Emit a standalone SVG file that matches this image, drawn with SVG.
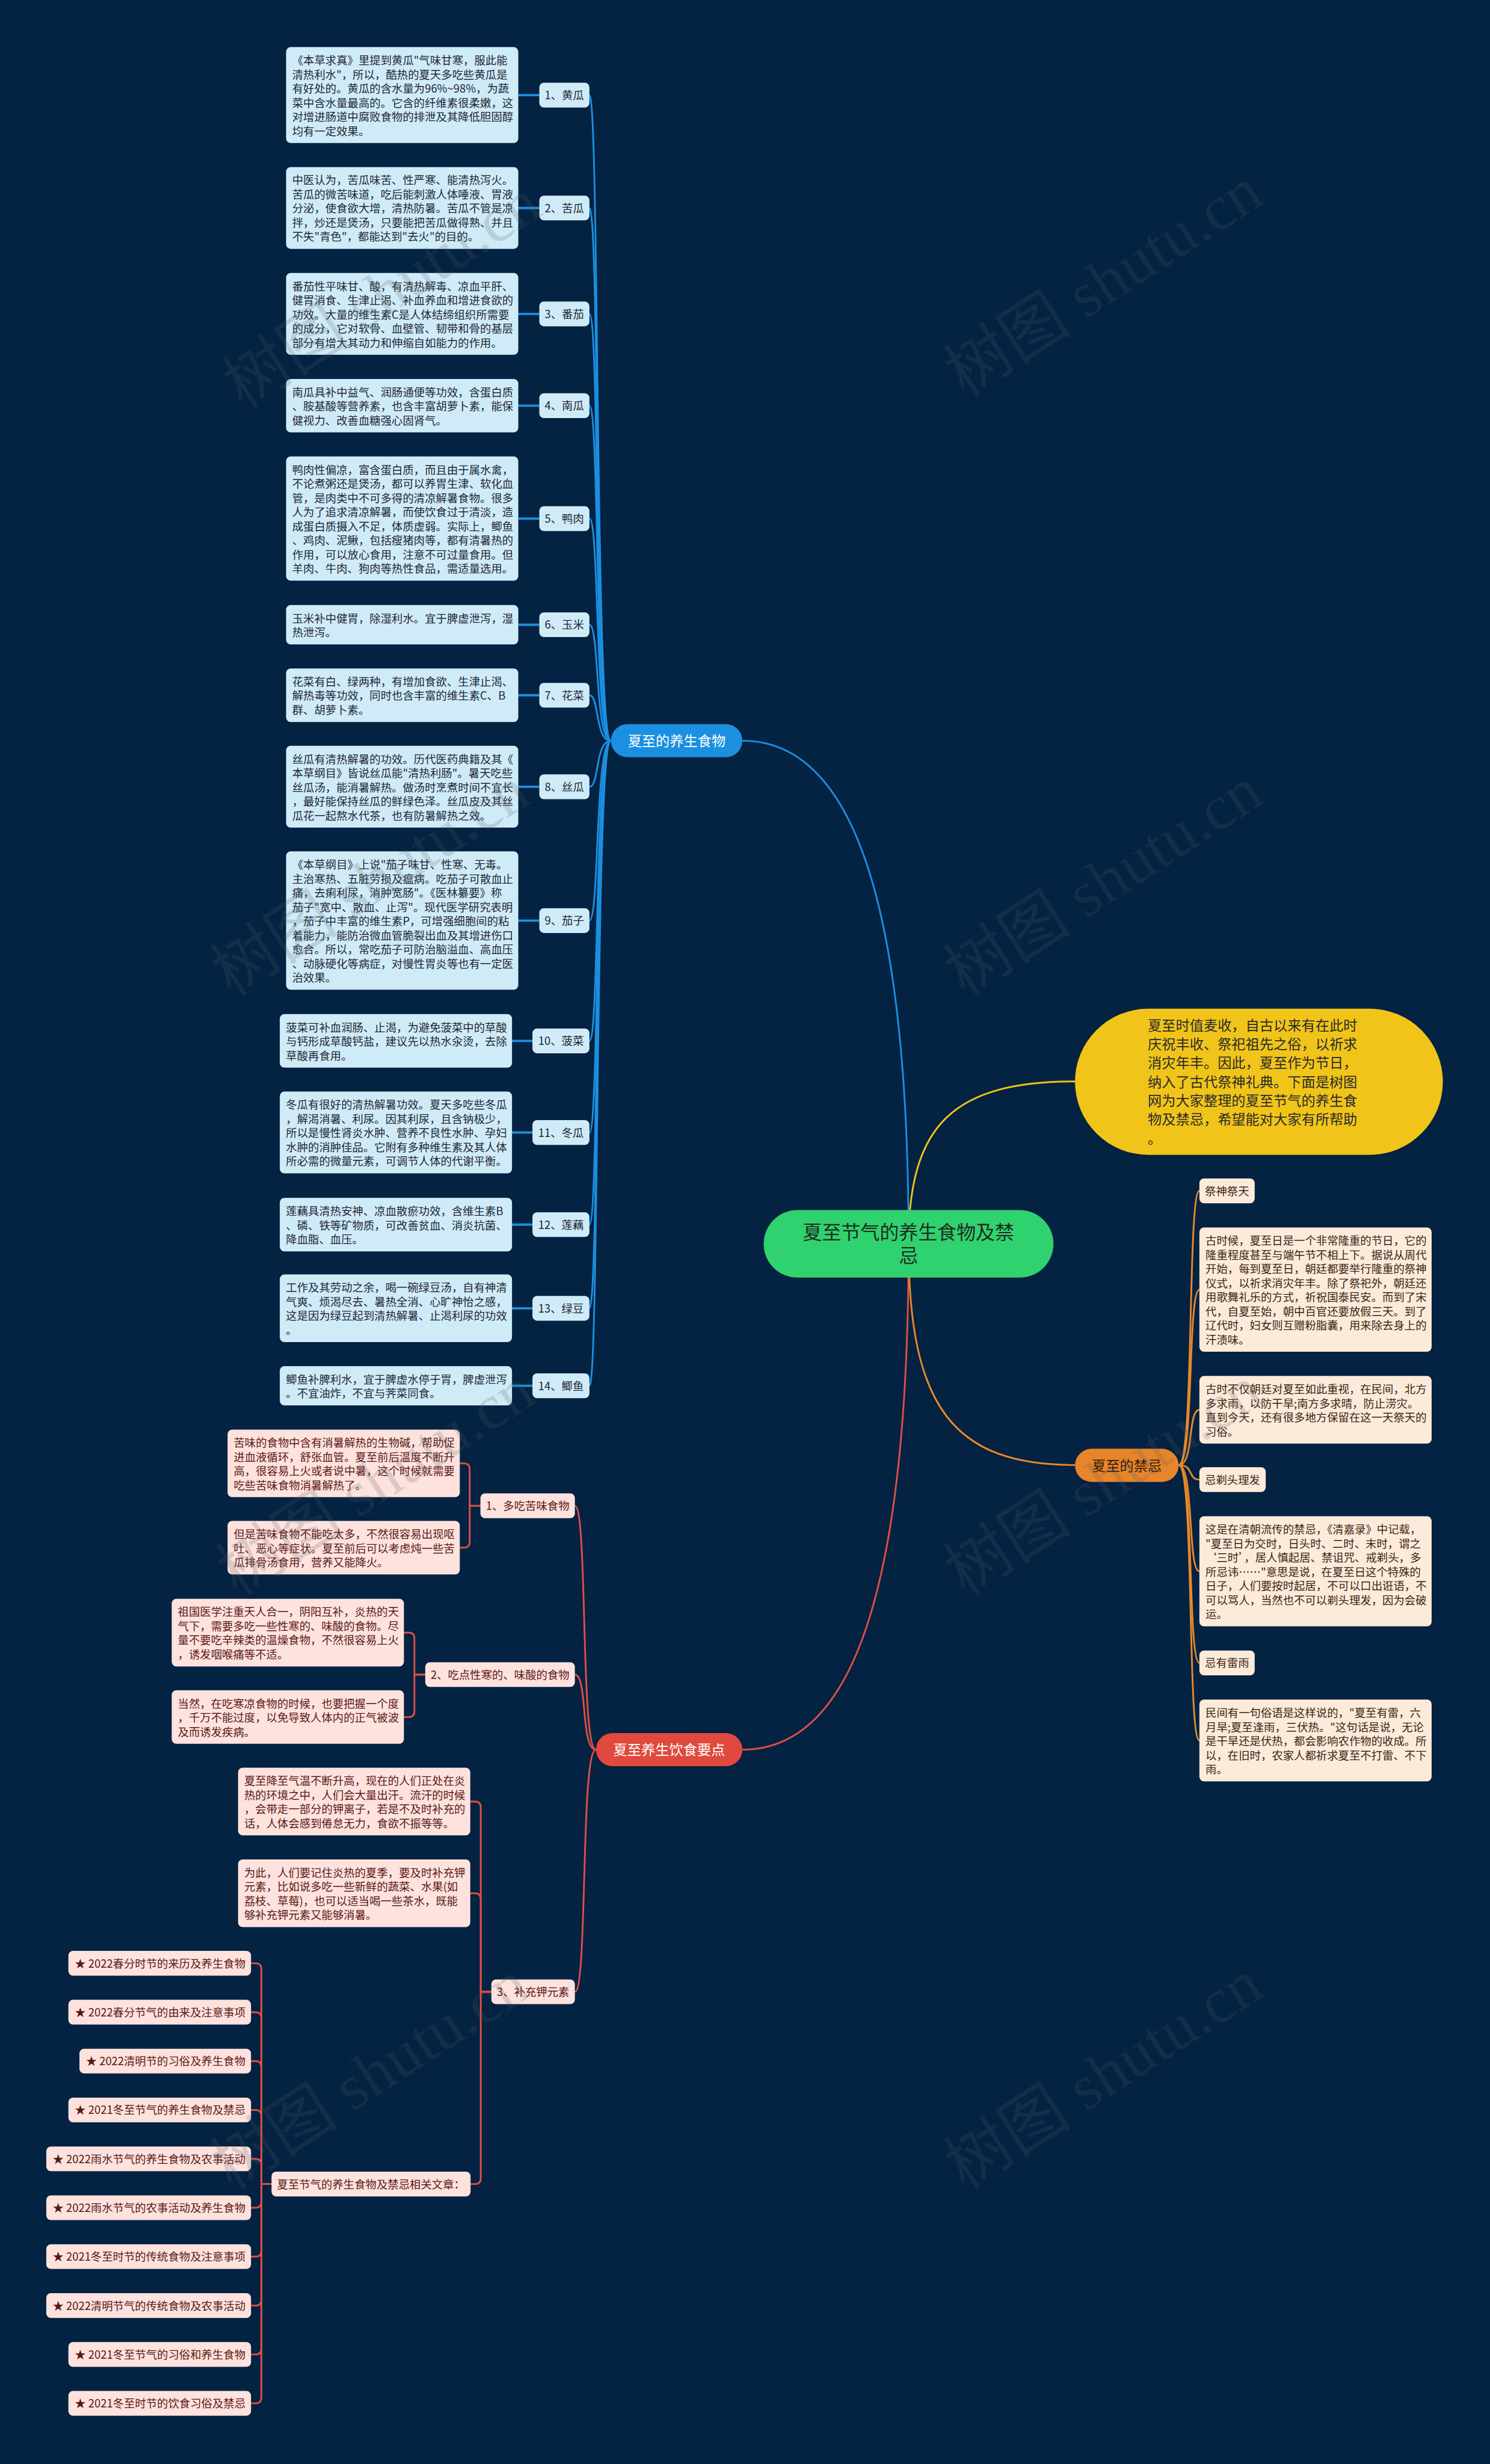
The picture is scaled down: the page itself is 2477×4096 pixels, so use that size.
<svg xmlns="http://www.w3.org/2000/svg" width="2477" height="4096" viewBox="0 0 2477 4096">
<defs>
<style>
text{font-family:"Noto Sans CJK SC","Noto Sans",sans-serif;font-size:19px}
.bb{fill:#d0ebf8}
.bt{fill:#1d2733}
.ob{fill:#fcebda}
.ot{fill:#3b2414}
.rb{fill:#fde2de}
.rt{fill:#5a1812}
.lm{text-anchor:middle}
.le{text-anchor:end}
.cb{stroke:#1b8fe0;fill:none;stroke-width:3}
.cbt{stroke:#1b8fe0;fill:none;stroke-width:4}
.co{stroke:#e8892b;fill:none;stroke-width:3}
.cr{stroke:#dc5045;fill:none;stroke-width:3}
.cy{stroke:#f0c419;fill:none;stroke-width:3}
.wm{font-family:"Liberation Serif","Noto Sans CJK SC",serif;font-size:110px;fill:#56606a;text-anchor:middle}
</style>
</defs>
<rect x="0" y="0" width="2477" height="4096" fill="#042241"/>
<g transform="scale(0.96758)">

<g id="connectors">
<path class="cb" d="M1561 2137 C1561 1480 1440 1272.6 1275.5 1272.6"/>
<path class="cr" d="M1561 2137 C1561 2800 1440 3006 1275.5 3006"/>
<path class="cy" d="M1561 2137 C1561 1930 1640 1858 1847 1858"/>
<path class="co" d="M1561 2137 C1561 2420 1640 2517 1847 2517"/>

<path class="cb" d="M1012.7 163.4 C1030 163.4 1022 1272.6 1049.7 1272.6"/>
<path class="cb" d="M1012.7 357.3 C1030 357.3 1022 1272.6 1049.7 1272.6"/>
<path class="cb" d="M1012.7 539.3 C1030 539.3 1022 1272.6 1049.7 1272.6"/>
<path class="cb" d="M1012.7 697 C1030 697 1022 1272.6 1049.7 1272.6"/>
<path class="cb" d="M1012.7 891 C1030 891 1022 1272.6 1049.7 1272.6"/>
<path class="cb" d="M1012.7 1073.3 C1030 1073.3 1022 1272.6 1049.7 1272.6"/>
<path class="cb" d="M1012.7 1194.5 C1030 1194.5 1022 1272.6 1049.7 1272.6"/>
<path class="cb" d="M1012.7 1351.7 C1030 1351.7 1022 1272.6 1049.7 1272.6"/>
<path class="cb" d="M1012.7 1581.6 C1030 1581.6 1022 1272.6 1049.7 1272.6"/>
<path class="cb" d="M1012.7 1788.3 C1030 1788.3 1022 1272.6 1049.7 1272.6"/>
<path class="cb" d="M1012.7 1945.7 C1030 1945.7 1022 1272.6 1049.7 1272.6"/>
<path class="cb" d="M1012.7 2104 C1030 2104 1022 1272.6 1049.7 1272.6"/>
<path class="cb" d="M1012.7 2247.7 C1030 2247.7 1022 1272.6 1049.7 1272.6"/>
<path class="cb" d="M1012.7 2380.8 C1030 2380.8 1022 1272.6 1049.7 1272.6"/>

<path class="cbt" d="M890.5 163.4 H926.6"/>
<path class="cbt" d="M890.5 357.3 H926.6"/>
<path class="cbt" d="M890.5 539.3 H926.6"/>
<path class="cbt" d="M890.5 697 H926.6"/>
<path class="cbt" d="M890.5 891 H926.6"/>
<path class="cbt" d="M890.5 1073.3 H926.6"/>
<path class="cbt" d="M890.5 1194.5 H926.6"/>
<path class="cbt" d="M890.5 1351.7 H926.6"/>
<path class="cbt" d="M890.5 1581.6 H926.6"/>
<path class="cbt" d="M879.7 1788.3 H914.8"/>
<path class="cbt" d="M879.7 1945.7 H914.8"/>
<path class="cbt" d="M879.7 2104 H914.8"/>
<path class="cbt" d="M879.7 2247.7 H914.8"/>
<path class="cbt" d="M879.7 2380.8 H914.8"/>

<path class="co" d="M2025 2517 C2052 2517 2040 2046 2060.7 2046"/>
<path class="co" d="M2025 2517 C2052 2517 2040 2215.5 2060.7 2215.5"/>
<path class="co" d="M2025 2517 C2052 2517 2040 2422.1 2060.7 2422.1"/>
<path class="co" d="M2025 2517 C2052 2517 2040 2542 2060.7 2542"/>
<path class="co" d="M2025 2517 C2052 2517 2040 2699.5 2060.7 2699.5"/>
<path class="co" d="M2025 2517 C2052 2517 2040 2857 2060.7 2857"/>
<path class="co" d="M2025 2517 C2052 2517 2040 2990.2 2060.7 2990.2"/>

<path class="cr" d="M1024 3006 C997 3006 1010 2587 987.7 2587"/>
<path class="cr" d="M1024 3006 C997 3006 1010 2877 987.7 2877"/>
<path class="cr" d="M1024 3006 C997 3006 1010 3422 987.7 3422"/>

<path class="cr" d="M825.4 2587 H807 V2524.1 Q807 2514.1 797 2514.1 H790"/>
<path class="cr" d="M825.4 2587 H807 V2649 Q807 2659 797 2659 H790"/>
<path class="cr" d="M730.6 2877 H712 V2814.9 Q712 2804.9 702 2804.9 H694"/>
<path class="cr" d="M730.6 2877 H712 V2940 Q712 2950 702 2950 H694"/>
<path class="cr" d="M844.2 3422 H826 V3105.1 Q826 3095.1 816 3095.1 H808"/>
<path class="cr" d="M844.2 3422 H826 V3262.7 Q826 3252.7 816 3252.7 H808"/>
<path class="cr" d="M844.2 3422 H826 V3742.25 Q826 3752.25 816 3752.25 H808.5"/>

<path class="cr" d="M466.5 3752.25 H449 V3383 Q449 3373 439 3373 H431.3"/>
<path class="cr" d="M466.5 3752.25 H449 V3467 Q449 3457 439 3457 H431.3"/>
<path class="cr" d="M466.5 3752.25 H449 V3551 Q449 3541 439 3541 H431.3"/>
<path class="cr" d="M466.5 3752.25 H449 V3635 Q449 3625 439 3625 H431.3"/>
<path class="cr" d="M466.5 3752.25 H449 V3719 Q449 3709 439 3709 H431.3"/>
<path class="cr" d="M466.5 3752.25 H449 V3783 Q449 3793 439 3793 H431.3"/>
<path class="cr" d="M466.5 3752.25 H449 V3867 Q449 3877 439 3877 H431.3"/>
<path class="cr" d="M466.5 3752.25 H449 V3951 Q449 3961 439 3961 H431.3"/>
<path class="cr" d="M466.5 3752.25 H449 V4035 Q449 4045 439 4045 H431.3"/>
<path class="cr" d="M466.5 3752.25 H449 V4119 Q449 4129 439 4129 H431.3"/>
</g>

<g id="root">
<rect x="1312" y="2079" width="498" height="116" rx="58" fill="#2fd26e"/>
<text x="1561" y="2129.5" class="lm" style="font-size:33px;fill:#1f2a22">夏至节气的养生食物及禁</text>
<text x="1561" y="2169.5" class="lm" style="font-size:33px;fill:#1f2a22">忌</text>
</g>

<g id="intro">
<rect x="1847" y="1733" width="632" height="251" rx="125.5" fill="#f0c419"/>
<text x="1972" y="1769.9" style="font-size:24px;fill:#2a2a2a"><tspan x="1972">夏至时值麦收，自古以来有在此时</tspan><tspan x="1972" dy="32.4">庆祝丰收、祭祀祖先之俗，以祈求</tspan><tspan x="1972" dy="32.4">消灾年丰。因此，夏至作为节日，</tspan><tspan x="1972" dy="32.4">纳入了古代祭神礼典。下面是树图</tspan><tspan x="1972" dy="32.4">网为大家整理的夏至节气的养生食</tspan><tspan x="1972" dy="32.4">物及禁忌，希望能对大家有所帮助</tspan><tspan x="1972" dy="32.4">。</tspan></text>
</g>

<g id="food">
<rect x="1049.7" y="1244" width="225.8" height="57" rx="28.5" fill="#1b8fe0"/>
<text x="1162.6" y="1281.6" class="lm" style="font-size:24px;fill:#ffffff">夏至的养生食物</text>
</g>

<g id="f1"><rect class="bb" x="926.6" y="142.15" width="86.1" height="42.5" rx="8"/><text class="bt lm" x="969.65" y="170.6">1、黄瓜</text></g>
<g id="f2"><rect class="bb" x="926.6" y="336.05" width="86.1" height="42.5" rx="8"/><text class="bt lm" x="969.65" y="364.5">2、苦瓜</text></g>
<g id="f3"><rect class="bb" x="926.6" y="518.05" width="86.1" height="42.5" rx="8"/><text class="bt lm" x="969.65" y="546.5">3、番茄</text></g>
<g id="f4"><rect class="bb" x="926.6" y="675.75" width="86.1" height="42.5" rx="8"/><text class="bt lm" x="969.65" y="704.2">4、南瓜</text></g>
<g id="f5"><rect class="bb" x="926.6" y="869.75" width="86.1" height="42.5" rx="8"/><text class="bt lm" x="969.65" y="898.2">5、鸭肉</text></g>
<g id="f6"><rect class="bb" x="926.6" y="1052.05" width="86.1" height="42.5" rx="8"/><text class="bt lm" x="969.65" y="1080.5">6、玉米</text></g>
<g id="f7"><rect class="bb" x="926.6" y="1173.25" width="86.1" height="42.5" rx="8"/><text class="bt lm" x="969.65" y="1201.7">7、花菜</text></g>
<g id="f8"><rect class="bb" x="926.6" y="1330.45" width="86.1" height="42.5" rx="8"/><text class="bt lm" x="969.65" y="1358.9">8、丝瓜</text></g>
<g id="f9"><rect class="bb" x="926.6" y="1560.35" width="86.1" height="42.5" rx="8"/><text class="bt lm" x="969.65" y="1588.8">9、茄子</text></g>
<g id="f10"><rect class="bb" x="914.8" y="1767.05" width="97.9" height="42.5" rx="8"/><text class="bt lm" x="963.75" y="1795.5">10、菠菜</text></g>
<g id="f11"><rect class="bb" x="914.8" y="1924.45" width="97.9" height="42.5" rx="8"/><text class="bt lm" x="963.75" y="1952.9">11、冬瓜</text></g>
<g id="f12"><rect class="bb" x="914.8" y="2082.75" width="97.9" height="42.5" rx="8"/><text class="bt lm" x="963.75" y="2111.2">12、莲藕</text></g>
<g id="f13"><rect class="bb" x="914.8" y="2226.45" width="97.9" height="42.5" rx="8"/><text class="bt lm" x="963.75" y="2254.9">13、绿豆</text></g>
<g id="f14"><rect class="bb" x="914.8" y="2359.55" width="97.9" height="42.5" rx="8"/><text class="bt lm" x="963.75" y="2388">14、鲫鱼</text></g>

<g id="d1"><rect class="bb" x="491.5" y="81" width="399" height="164.8" rx="8"/><text class="bt" x="502" y="110.7"><tspan x="502">《本草求真》里提到黄瓜"气味甘寒，服此能</tspan><tspan x="502" dy="24.3">清热利水"，所以，酷热的夏天多吃些黄瓜是</tspan><tspan x="502" dy="24.3">有好处的。黄瓜的含水量为96%~98%，为蔬</tspan><tspan x="502" dy="24.3">菜中含水量最高的。它含的纤维素很柔嫩，这</tspan><tspan x="502" dy="24.3">对增进肠道中腐败食物的排泄及其降低胆固醇</tspan><tspan x="502" dy="24.3">均有一定效果。</tspan></text></g>
<g id="d2"><rect class="bb" x="491.5" y="287" width="399" height="140.5" rx="8"/><text class="bt" x="502" y="316.7"><tspan x="502">中医认为，苦瓜味苦、性严寒、能清热泻火。</tspan><tspan x="502" dy="24.3">苦瓜的微苦味道，吃后能刺激人体唾液、胃液</tspan><tspan x="502" dy="24.3">分泌，使食欲大增，清热防暑。苦瓜不管是凉</tspan><tspan x="502" dy="24.3">拌，炒还是煲汤，只要能把苦瓜做得熟、并且</tspan><tspan x="502" dy="24.3">不失"青色"，都能达到"去火"的目的。</tspan></text></g>
<g id="d3"><rect class="bb" x="491.5" y="469" width="399" height="140.5" rx="8"/><text class="bt" x="502" y="498.7"><tspan x="502">番茄性平味甘、酸，有清热解毒、凉血平肝、</tspan><tspan x="502" dy="24.3">健胃消食、生津止渴、补血养血和增进食欲的</tspan><tspan x="502" dy="24.3">功效。大量的维生素C是人体结缔组织所需要</tspan><tspan x="502" dy="24.3">的成分，它对软骨、血壁管、韧带和骨的基层</tspan><tspan x="502" dy="24.3">部分有增大其动力和伸缩自如能力的作用。</tspan></text></g>
<g id="d4"><rect class="bb" x="491.5" y="651" width="399" height="91.9" rx="8"/><text class="bt" x="502" y="680.7"><tspan x="502">南瓜具补中益气、润肠通便等功效，含蛋白质</tspan><tspan x="502" dy="24.3">、胺基酸等营养素，也含丰富胡萝卜素，能保</tspan><tspan x="502" dy="24.3">健视力、改善血糖强心固肾气。</tspan></text></g>
<g id="d5"><rect class="bb" x="491.5" y="784.3" width="399" height="213.4" rx="8"/><text class="bt" x="502" y="814"><tspan x="502">鸭肉性偏凉，富含蛋白质，而且由于属水禽，</tspan><tspan x="502" dy="24.3">不论煮粥还是煲汤，都可以养胃生津、软化血</tspan><tspan x="502" dy="24.3">管，是肉类中不可多得的清凉解暑食物。很多</tspan><tspan x="502" dy="24.3">人为了追求清凉解暑，而使饮食过于清淡，造</tspan><tspan x="502" dy="24.3">成蛋白质摄入不足，体质虚弱。实际上，鲫鱼</tspan><tspan x="502" dy="24.3">、鸡肉、泥鳅，包括瘦猪肉等，都有清暑热的</tspan><tspan x="502" dy="24.3">作用，可以放心食用，注意不可过量食用。但</tspan><tspan x="502" dy="24.3">羊肉、牛肉、狗肉等热性食品，需适量选用。</tspan></text></g>
<g id="d6"><rect class="bb" x="491.5" y="1039.5" width="399" height="67.6" rx="8"/><text class="bt" x="502" y="1069.2"><tspan x="502">玉米补中健胃，除湿利水。宜于脾虚泄泻，湿</tspan><tspan x="502" dy="24.3">热泄泻。</tspan></text></g>
<g id="d7"><rect class="bb" x="491.5" y="1148.5" width="399" height="91.9" rx="8"/><text class="bt" x="502" y="1178.2"><tspan x="502">花菜有白、绿两种，有增加食欲、生津止渴、</tspan><tspan x="502" dy="24.3">解热毒等功效，同时也含丰富的维生素C、B</tspan><tspan x="502" dy="24.3">群、胡萝卜素。</tspan></text></g>
<g id="d8"><rect class="bb" x="491.5" y="1281.4" width="399" height="140.5" rx="8"/><text class="bt" x="502" y="1311.1"><tspan x="502">丝瓜有清热解暑的功效。历代医药典籍及其《</tspan><tspan x="502" dy="24.3">本草纲目》皆说丝瓜能"清热利肠"。暑天吃些</tspan><tspan x="502" dy="24.3">丝瓜汤，能消暑解热。做汤时烹煮时间不宜长</tspan><tspan x="502" dy="24.3">，最好能保持丝瓜的鲜绿色泽。丝瓜皮及其丝</tspan><tspan x="502" dy="24.3">瓜花一起熬水代茶，也有防暑解热之效。</tspan></text></g>
<g id="d9"><rect class="bb" x="491.5" y="1462.7" width="399" height="237.7" rx="8"/><text class="bt" x="502" y="1492.4"><tspan x="502">《本草纲目》上说"茄子味甘、性寒、无毒。</tspan><tspan x="502" dy="24.3">主治寒热、五脏劳损及瘟病。吃茄子可散血止</tspan><tspan x="502" dy="24.3">痛，去痢利尿，消肿宽肠"。《医林纂要》称</tspan><tspan x="502" dy="24.3">茄子"宽中、散血、止泻"。现代医学研究表明</tspan><tspan x="502" dy="24.3">，茄子中丰富的维生素P，可增强细胞间的粘</tspan><tspan x="502" dy="24.3">着能力，能防治微血管脆裂出血及其增进伤口</tspan><tspan x="502" dy="24.3">愈合。所以，常吃茄子可防治脑溢血、高血压</tspan><tspan x="502" dy="24.3">、动脉硬化等病症，对慢性胃炎等也有一定医</tspan><tspan x="502" dy="24.3">治效果。</tspan></text></g>
<g id="d10"><rect class="bb" x="480.7" y="1742.3" width="399" height="91.9" rx="8"/><text class="bt" x="491.2" y="1772"><tspan x="491.2">菠菜可补血润肠、止渴，为避免菠菜中的草酸</tspan><tspan x="491.2" dy="24.3">与钙形成草酸钙盐，建议先以热水汆烫，去除</tspan><tspan x="491.2" dy="24.3">草酸再食用。</tspan></text></g>
<g id="d11"><rect class="bb" x="480.7" y="1875.4" width="399" height="140.5" rx="8"/><text class="bt" x="491.2" y="1905.1"><tspan x="491.2">冬瓜有很好的清热解暑功效。夏天多吃些冬瓜</tspan><tspan x="491.2" dy="24.3">，解渴消暑、利尿。因其利尿，且含钠极少，</tspan><tspan x="491.2" dy="24.3">所以是慢性肾炎水肿、营养不良性水肿、孕妇</tspan><tspan x="491.2" dy="24.3">水肿的消肿佳品。它附有多种维生素及其人体</tspan><tspan x="491.2" dy="24.3">所必需的微量元素，可调节人体的代谢平衡。</tspan></text></g>
<g id="d12"><rect class="bb" x="480.7" y="2058" width="399" height="91.9" rx="8"/><text class="bt" x="491.2" y="2087.7"><tspan x="491.2">莲藕具清热安神、凉血散瘀功效，含维生素B</tspan><tspan x="491.2" dy="24.3">、磷、铁等矿物质，可改善贫血、消炎抗菌、</tspan><tspan x="491.2" dy="24.3">降血脂、血压。</tspan></text></g>
<g id="d13"><rect class="bb" x="480.7" y="2189.6" width="399" height="116.2" rx="8"/><text class="bt" x="491.2" y="2219.3"><tspan x="491.2">工作及其劳动之余，喝一碗绿豆汤，自有神清</tspan><tspan x="491.2" dy="24.3">气爽、烦渴尽去、暑热全消、心旷神怡之感，</tspan><tspan x="491.2" dy="24.3">这是因为绿豆起到清热解暑、止渴利尿的功效</tspan><tspan x="491.2" dy="24.3">。</tspan></text></g>
<g id="d14"><rect class="bb" x="480.7" y="2347" width="399" height="67.6" rx="8"/><text class="bt" x="491.2" y="2376.7"><tspan x="491.2">鲫鱼补脾利水，宜于脾虚水停于胃，脾虚泄泻</tspan><tspan x="491.2" dy="24.3">。不宜油炸，不宜与荠菜同食。</tspan></text></g>

<g id="taboo">
<rect x="1847" y="2489" width="178" height="57" rx="28.5" fill="#e8852a"/>
<text x="1936" y="2526.6" class="lm" style="font-size:24px;fill:#2e1a08">夏至的禁忌</text>
</g>
<g id="t1"><rect class="ob" x="2060.7" y="2024.75" width="95" height="42.5" rx="8"/><text class="ot" x="2070.2" y="2053.2">祭神祭天</text></g>
<g id="t2"><rect class="ob" x="2060.7" y="2108.8" width="399" height="213.4" rx="8"/><text class="ot" x="2071.2" y="2138.5"><tspan x="2071.2">古时候，夏至日是一个非常隆重的节日，它的</tspan><tspan x="2071.2" dy="24.3">隆重程度甚至与端午节不相上下。据说从周代</tspan><tspan x="2071.2" dy="24.3">开始，每到夏至日，朝廷都要举行隆重的祭神</tspan><tspan x="2071.2" dy="24.3">仪式，以祈求消灾年丰。除了祭祀外，朝廷还</tspan><tspan x="2071.2" dy="24.3">用歌舞礼乐的方式，祈祝国泰民安。而到了宋</tspan><tspan x="2071.2" dy="24.3">代，自夏至始，朝中百官还要放假三天。到了</tspan><tspan x="2071.2" dy="24.3">辽代时，妇女则互赠粉脂囊，用来除去身上的</tspan><tspan x="2071.2" dy="24.3">汗渍味。</tspan></text></g>
<g id="t3"><rect class="ob" x="2060.7" y="2364" width="399" height="116.2" rx="8"/><text class="ot" x="2071.2" y="2393.7"><tspan x="2071.2">古时不仅朝廷对夏至如此重视，在民间，北方</tspan><tspan x="2071.2" dy="24.3">多求雨，以防干旱;南方多求晴，防止涝灾。</tspan><tspan x="2071.2" dy="24.3">直到今天，还有很多地方保留在这一天祭天的</tspan><tspan x="2071.2" dy="24.3">习俗。</tspan></text></g>
<g id="t4"><rect class="ob" x="2060.7" y="2520.75" width="114" height="42.5" rx="8"/><text class="ot" x="2070.2" y="2549.2">忌剃头理发</text></g>
<g id="t5"><rect class="ob" x="2060.7" y="2605" width="399" height="189.1" rx="8"/><text class="ot" x="2071.2" y="2634.7"><tspan x="2071.2">这是在清朝流传的禁忌，《清嘉录》中记载，</tspan><tspan x="2071.2" dy="24.3">"夏至日为交时，日头时、二时、末时，谓之</tspan><tspan x="2071.2" dy="24.3">‘三时’，居人慎起居、禁诅咒、戒剃头，多</tspan><tspan x="2071.2" dy="24.3">所忌讳……"意思是说，在夏至日这个特殊的</tspan><tspan x="2071.2" dy="24.3">日子，人们要按时起居，不可以口出诳语，不</tspan><tspan x="2071.2" dy="24.3">可以骂人，当然也不可以剃头理发，因为会破</tspan><tspan x="2071.2" dy="24.3">运。</tspan></text></g>
<g id="t6"><rect class="ob" x="2060.7" y="2835.75" width="95" height="42.5" rx="8"/><text class="ot" x="2070.2" y="2864.2">忌有雷雨</text></g>
<g id="t7"><rect class="ob" x="2060.7" y="2920" width="399" height="140.5" rx="8"/><text class="ot" x="2071.2" y="2949.7"><tspan x="2071.2">民间有一句俗语是这样说的，"夏至有雷，六</tspan><tspan x="2071.2" dy="24.3">月旱;夏至逢雨，三伏热。"这句话是说，无论</tspan><tspan x="2071.2" dy="24.3">是干旱还是伏热，都会影响农作物的收成。所</tspan><tspan x="2071.2" dy="24.3">以，在旧时，农家人都祈求夏至不打雷、不下</tspan><tspan x="2071.2" dy="24.3">雨。</tspan></text></g>

<g id="diet">
<rect x="1024" y="2977.5" width="251.5" height="57" rx="28.5" fill="#e0493e"/>
<text x="1149.75" y="3015.1" class="lm" style="font-size:24px;fill:#ffffff">夏至养生饮食要点</text>
</g>
<g id="r1"><rect class="rb" x="825.4" y="2565.75" width="162.3" height="42.5" rx="8"/><text class="rt lm" x="906.55" y="2594.2">1、多吃苦味食物</text></g>
<g id="r1a"><rect class="rb" x="391" y="2456" width="399" height="116.2" rx="8"/><text class="rt" x="401.5" y="2485.7"><tspan x="401.5">苦味的食物中含有消暑解热的生物碱，帮助促</tspan><tspan x="401.5" dy="24.3">进血液循环，舒张血管。夏至前后温度不断升</tspan><tspan x="401.5" dy="24.3">高，很容易上火或者说中暑，这个时候就需要</tspan><tspan x="401.5" dy="24.3">吃些苦味食物消暑解热了。</tspan></text></g>
<g id="r1b"><rect class="rb" x="391" y="2613" width="399" height="91.9" rx="8"/><text class="rt" x="401.5" y="2642.7"><tspan x="401.5">但是苦味食物不能吃太多，不然很容易出现呕</tspan><tspan x="401.5" dy="24.3">吐、恶心等症状。夏至前后可以考虑炖一些苦</tspan><tspan x="401.5" dy="24.3">瓜排骨汤食用，营养又能降火。</tspan></text></g>
<g id="r2"><rect class="rb" x="730.6" y="2855.75" width="257.1" height="42.5" rx="8"/><text class="rt lm" x="859.15" y="2884.2">2、吃点性寒的、味酸的食物</text></g>
<g id="r2a"><rect class="rb" x="295" y="2746.8" width="399" height="116.2" rx="8"/><text class="rt" x="305.5" y="2776.5"><tspan x="305.5">祖国医学注重天人合一，阴阳互补，炎热的天</tspan><tspan x="305.5" dy="24.3">气下，需要多吃一些性寒的、味酸的食物。尽</tspan><tspan x="305.5" dy="24.3">量不要吃辛辣类的温燥食物，不然很容易上火</tspan><tspan x="305.5" dy="24.3">，诱发咽喉痛等不适。</tspan></text></g>
<g id="r2b"><rect class="rb" x="295" y="2904" width="399" height="91.9" rx="8"/><text class="rt" x="305.5" y="2933.7"><tspan x="305.5">当然，在吃寒凉食物的时候，也要把握一个度</tspan><tspan x="305.5" dy="24.3">，千万不能过度，以免导致人体内的正气被波</tspan><tspan x="305.5" dy="24.3">及而诱发疾病。</tspan></text></g>
<g id="r3"><rect class="rb" x="844.2" y="3400.75" width="143.5" height="42.5" rx="8"/><text class="rt lm" x="915.95" y="3429.2">3、补充钾元素</text></g>
<g id="r3a"><rect class="rb" x="409" y="3037" width="399" height="116.2" rx="8"/><text class="rt" x="419.5" y="3066.7"><tspan x="419.5">夏至降至气温不断升高，现在的人们正处在炎</tspan><tspan x="419.5" dy="24.3">热的环境之中，人们会大量出汗。流汗的时候</tspan><tspan x="419.5" dy="24.3">，会带走一部分的钾离子，若是不及时补充的</tspan><tspan x="419.5" dy="24.3">话，人体会感到倦怠无力，食欲不振等等。</tspan></text></g>
<g id="r3b"><rect class="rb" x="409" y="3194.6" width="399" height="116.2" rx="8"/><text class="rt" x="419.5" y="3224.3"><tspan x="419.5">为此，人们要记住炎热的夏季，要及时补充钾</tspan><tspan x="419.5" dy="24.3">元素，比如说多吃一些新鲜的蔬菜、水果(如</tspan><tspan x="419.5" dy="24.3">荔枝、草莓)，也可以适当喝一些茶水，既能</tspan><tspan x="419.5" dy="24.3">够补充钾元素又能够消暑。</tspan></text></g>
<g id="r4"><rect class="rb" x="466.5" y="3731" width="342" height="42.5" rx="8"/><text class="rt" x="476" y="3759.5">夏至节气的养生食物及禁忌相关文章：</text></g>

<g id="a1"><rect class="rb" x="117.5" y="3351.75" width="313.8" height="42.5" rx="8"/><text class="rt le" x="421.8" y="3380.2">★ 2022春分时节的来历及养生食物</text></g>
<g id="a2"><rect class="rb" x="117.5" y="3435.75" width="313.8" height="42.5" rx="8"/><text class="rt le" x="421.8" y="3464.2">★ 2022春分节气的由来及注意事项</text></g>
<g id="a3"><rect class="rb" x="136.5" y="3519.75" width="294.8" height="42.5" rx="8"/><text class="rt le" x="421.8" y="3548.2">★ 2022清明节的习俗及养生食物</text></g>
<g id="a4"><rect class="rb" x="117.5" y="3603.75" width="313.8" height="42.5" rx="8"/><text class="rt le" x="421.8" y="3632.2">★ 2021冬至节气的养生食物及禁忌</text></g>
<g id="a5"><rect class="rb" x="79.5" y="3687.75" width="351.8" height="42.5" rx="8"/><text class="rt le" x="421.8" y="3716.2">★ 2022雨水节气的养生食物及农事活动</text></g>
<g id="a6"><rect class="rb" x="79.5" y="3771.75" width="351.8" height="42.5" rx="8"/><text class="rt le" x="421.8" y="3800.2">★ 2022雨水节气的农事活动及养生食物</text></g>
<g id="a7"><rect class="rb" x="79.5" y="3855.75" width="351.8" height="42.5" rx="8"/><text class="rt le" x="421.8" y="3884.2">★ 2021冬至时节的传统食物及注意事项</text></g>
<g id="a8"><rect class="rb" x="79.5" y="3939.75" width="351.8" height="42.5" rx="8"/><text class="rt le" x="421.8" y="3968.2">★ 2022清明节气的传统食物及农事活动</text></g>
<g id="a9"><rect class="rb" x="117.5" y="4023.75" width="313.8" height="42.5" rx="8"/><text class="rt le" x="421.8" y="4052.2">★ 2021冬至节气的习俗和养生食物</text></g>
<g id="a10"><rect class="rb" x="117.5" y="4107.75" width="313.8" height="42.5" rx="8"/><text class="rt le" x="421.8" y="4136.2">★ 2021冬至时节的饮食习俗及禁忌</text></g>

<g id="watermarks" opacity="0.2">
<text class="wm" x="660" y="540" transform="rotate(-33 660 510)">树图 shutu.cn</text>
<text class="wm" x="1900" y="520" transform="rotate(-33 1900 490)">树图 shutu.cn</text>
<text class="wm" x="640" y="1550" transform="rotate(-33 640 1520)">树图 shutu.cn</text>
<text class="wm" x="1900" y="1550" transform="rotate(-33 1900 1520)">树图 shutu.cn</text>
<text class="wm" x="650" y="2580" transform="rotate(-33 650 2550)">树图 shutu.cn</text>
<text class="wm" x="1900" y="2580" transform="rotate(-33 1900 2550)">树图 shutu.cn</text>
<text class="wm" x="640" y="3600" transform="rotate(-33 640 3570)">树图 shutu.cn</text>
<text class="wm" x="1900" y="3600" transform="rotate(-33 1900 3570)">树图 shutu.cn</text>
</g>

</g>
</svg>
